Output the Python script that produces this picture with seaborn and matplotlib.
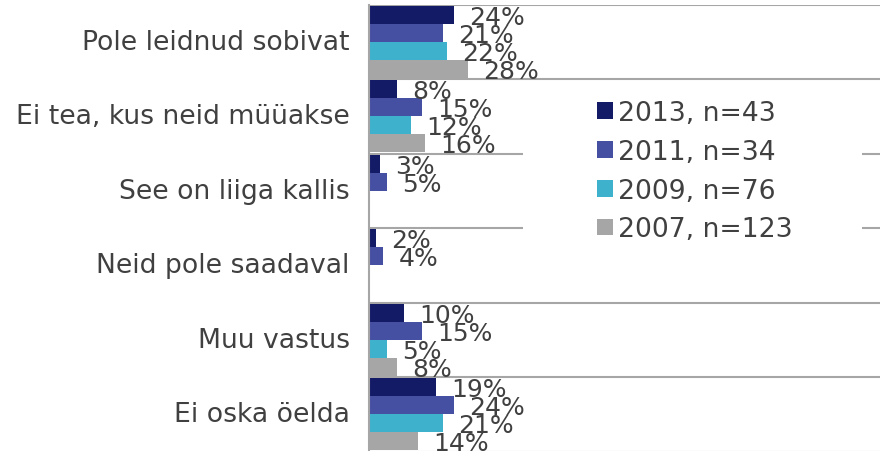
import numpy as np
import pandas as pd
import matplotlib
matplotlib.use("Agg")
import matplotlib.pyplot as plt
from matplotlib.patches import Rectangle
import seaborn as sns

categories = ["Pole leidnud sobivat", "Ei tea, kus neid müüakse", "See on liiga kallis",
              "Neid pole saadaval", "Muu vastus", "Ei oska öelda"]
years = ["2013, n=43", "2011, n=34", "2009, n=76", "2007, n=123"]
v2013 = [24, 8, 3, 2, 10, 19]
v2011 = [21, 15, 5, 4, 15, 24]
v2009 = [22, 12, np.nan, np.nan, 5, 21]
v2007 = [28, 16, np.nan, np.nan, 8, 14]
colors = ["#131A66", "#4650A3", "#3EB1CD", "#A6A6A6"]

rows = []
for year, vals in zip(years, [v2013, v2011, v2009, v2007]):
    for cat, v in zip(categories, vals):
        rows.append({"category": cat, "year": year, "value": v})
df = pd.DataFrame(rows)

sns.set_style("white")
plt.rcParams['font.family'] = ['DejaVu Sans']
txt = "#404040"

fig = plt.figure(figsize=(8.82, 4.52), dpi=100)
ax = fig.add_axes([369/882, -0.5/452, 511/882, 447/452])

sns.barplot(data=df, x="value", y="category", hue="year", order=categories,
            hue_order=years, palette=colors, orient="h", width=0.97,
            saturation=1, linewidth=0, ax=ax)

ax.set_xlim(0, 145)
ax.set_ylim(5.5, -0.5)
ax.set_xlabel("")
ax.set_ylabel("")
ax.set_xticks([])
ax.tick_params(axis="y", length=0, pad=14, labelsize=19.2, labelcolor=txt)
for lab in ax.get_yticklabels():
    lab.set_va("center")

for s in ["top", "right", "bottom"]:
    ax.spines[s].set_visible(False)
ax.spines["left"].set_color("#A6A6A6")
ax.spines["left"].set_linewidth(1.5)
ax.spines["left"].set_zorder(3)

for b in np.arange(-0.5, 6, 1):
    ax.axhline(b, color="#A6A6A6", lw=1.5, zorder=0.5)

# value labels
for cont in ax.containers:
    for bar in cont:
        w = bar.get_width()
        if np.isnan(w):
            continue
        ax.annotate(f"{w:.0f}%", (w, bar.get_y() + bar.get_height() / 2),
                    xytext=(11, -1.5), textcoords="offset points",
                    ha="left", va="center", fontsize=18, color=txt, zorder=4)

# white box behind the legend (covers gridlines like the original)
ax.add_patch(Rectangle((0.301, 0.386), 0.664, 0.403, transform=ax.transAxes,
                       facecolor="white", edgecolor="none", zorder=2))

handles, labels = ax.get_legend_handles_labels()
leg = ax.legend(handles, labels, loc="upper left",
                bbox_to_anchor=(597/882, 1 - 101/452), bbox_transform=fig.transFigure,
                frameon=False, fontsize=19.2, handlelength=0.6, handleheight=0.6,
                handletextpad=0.2, labelspacing=0.48, borderpad=0, borderaxespad=0)
for t in leg.get_texts():
    t.set_color(txt)
leg.set_zorder(5)

fig.savefig("out.png", dpi=100)
